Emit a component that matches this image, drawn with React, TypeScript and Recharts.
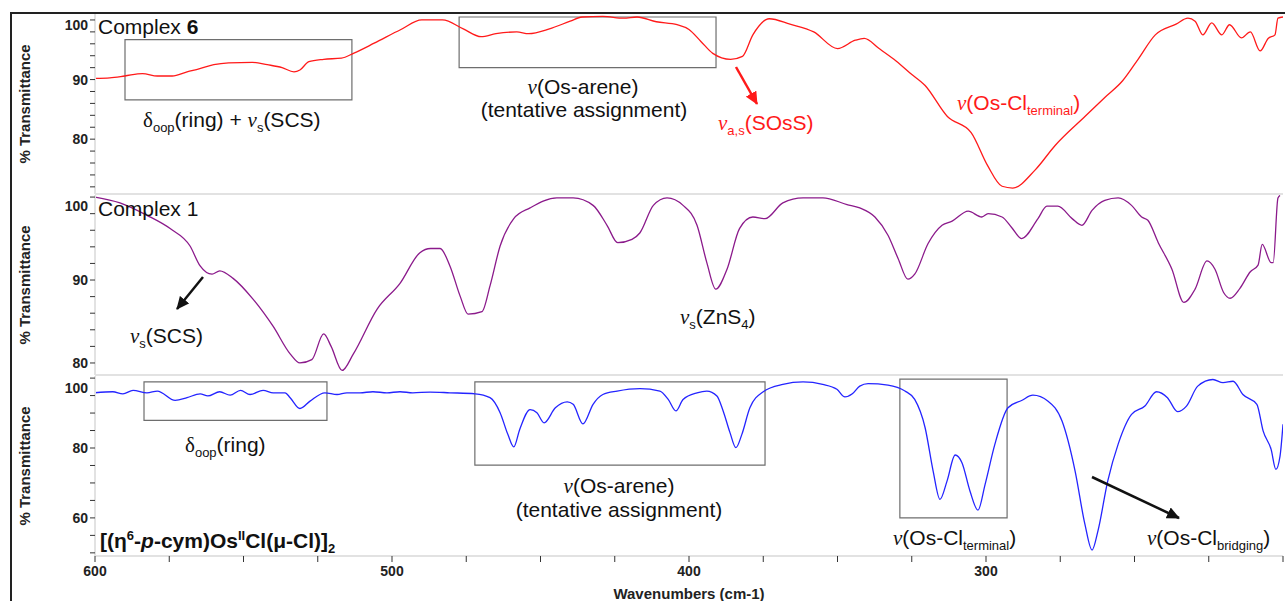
import { Line, LineChart, ReferenceArea, XAxis, YAxis } from 'recharts';

// wavenumber (cm-1) / % transmittance
const complex6Wn = [600, 595, 590, 584, 579, 574, 569, 565, 560, 555, 547, 542, 537, 533, 531, 528, 523, 517, 513, 506, 497, 490, 487, 483, 476, 470, 465, 458, 454, 447, 440, 436, 429, 422, 417.5, 411, 404, 400, 396, 392, 386, 382, 378.5, 373, 366, 358, 350, 344, 341, 336, 331, 325.6, 320.5, 313, 305, 299.5, 294.6, 291, 283.5, 276.8, 266.7, 260, 254, 248.8, 243, 236, 232, 229.6, 227, 224, 220.6, 218, 214, 211, 207.7, 205, 202.7, 201.7, 200];
const complex6T = [90.2, 90.3, 90.6, 91, 90.6, 90.6, 91.3, 91.8, 92.5, 92.8, 92.9, 92.5, 92, 91.3, 91.6, 93, 93.4, 93.6, 94.4, 96.1, 98.4, 100, 100, 100, 98.5, 97.2, 97.7, 98, 97.7, 98.5, 99.8, 100.5, 100.6, 100.3, 100.5, 99.7, 99.2, 98.4, 96.4, 94.4, 93.4, 93.9, 97.5, 100.2, 99.3, 98, 95.2, 96.6, 96.9, 95.2, 93.4, 91.1, 89, 83.8, 81.1, 75.6, 72.1, 71.8, 74.8, 78.9, 83.8, 87, 89.8, 93.4, 97.5, 99.3, 100.3, 99.8, 97.5, 99.5, 97.5, 99.2, 97, 98, 94.8, 96.9, 97.5, 100.3, 100.5];

const complex1Wn = [600, 591.6, 582.5, 574.7, 568, 564.6, 560.6, 558, 553.5, 546.8, 540, 534.3, 531, 527, 523, 520.5, 516.8, 513, 505, 497.3, 490.6, 487, 483.8, 480.5, 477, 474.4, 469.7, 467, 463.6, 459, 453.5, 444.5, 439, 432.3, 427.6, 424, 419.2, 416.5, 412, 407.4, 402, 397.3, 394, 391, 387.2, 383, 378.5, 374.4, 368.4, 361.6, 354.9, 346.8, 342.5, 337.4, 333, 329.6, 326.3, 324, 319.5, 314.8, 311.4, 306, 301.4, 299.3, 294.6, 291.3, 288, 282.5, 279.5, 275.8, 271, 267.7, 264.3, 260, 255.5, 251, 247.6, 245.5, 242, 237.4, 233.4, 229.6, 225.6, 222.9, 220, 217.8, 214.5, 211, 208.4, 207, 204, 203.3, 201.7, 201];
const complex1T = [100, 99.3, 97.8, 96.2, 94.1, 91.7, 90.7, 91.1, 90.2, 87.7, 84.4, 81.1, 80, 80.4, 83.5, 82, 79.1, 81.1, 86.5, 89.6, 93.3, 93.8, 93.8, 91.7, 88, 85.9, 86.2, 89.3, 94.1, 97.4, 98.7, 99.9, 99.9, 99, 96.6, 94.5, 94.9, 95.7, 99, 99.9, 99, 96.6, 92.1, 88.9, 91.3, 96.2, 97.6, 97.4, 99.3, 99.9, 99.9, 99.1, 98.7, 97.6, 95.4, 92.6, 90.1, 90.7, 94.4, 96.6, 97.1, 98.3, 97.6, 98, 97.6, 96.3, 95, 97.4, 98.9, 98.9, 97.4, 96.6, 98.4, 99.6, 99.9, 99, 97.6, 97.2, 94.5, 91.3, 87.3, 88.9, 92.3, 91.3, 88.5, 87.8, 89, 91, 91.8, 94.3, 92.1, 92.1, 99.9, 100.2];

const dimerWn = [600, 594, 590.6, 587.2, 582.5, 579, 573, 569, 564.6, 562, 558, 554.5, 551, 547.8, 543.4, 540, 536, 534.3, 531, 527.6, 522.6, 518.5, 515.2, 510.8, 506.4, 501.7, 497.3, 493, 487.2, 480.5, 472, 467, 463.6, 461, 459, 457, 453.5, 451.2, 448.8, 445, 441, 439, 435.7, 432.3, 429, 424.2, 416.5, 409.8, 407, 404.4, 402, 397.3, 394, 390.6, 388.5, 386.2, 384.2, 382.2, 379.5, 375, 368.4, 361.6, 355, 350.2, 347.5, 345, 342.5, 339.7, 333, 327.3, 324, 320.5, 317.8, 315.5, 313.1, 310.4, 308.1, 305.4, 302.7, 300.3, 297, 292.6, 288, 284.2, 279.1, 274.4, 270, 266.7, 264.3, 262.3, 259, 255.5, 251, 246.5, 242.6, 238.9, 235.5, 232.5, 228.7, 223.6, 220.2, 216.8, 213.5, 208.8, 206.7, 204, 202.4, 201, 200];
const dimerT = [95.8, 96.1, 95.5, 96.5, 95.8, 96.3, 93.6, 94.4, 95.5, 94.9, 96.1, 95.1, 96.5, 95.3, 96.5, 95.8, 95.8, 94.4, 91.3, 93.4, 95.8, 95.3, 95.8, 95.8, 96.1, 95.8, 96.1, 95.8, 96, 95.8, 95.5, 94.4, 90.1, 83.9, 80.3, 85.3, 91, 90.1, 87.2, 91.5, 93.2, 92.5, 86.9, 92.5, 95.3, 96.3, 97, 96.3, 93.9, 90.6, 93.9, 95.8, 96.3, 94.9, 90.6, 84.4, 80.1, 83.9, 91.5, 96.1, 98.2, 98.9, 98.2, 96.8, 94.6, 95.5, 97.7, 98.4, 98, 96.3, 93.9, 85.8, 73.4, 65.3, 70.6, 78, 75.8, 67.7, 62.2, 69.6, 81.1, 91.5, 93.6, 95.1, 93.4, 87.7, 73.4, 58.2, 50.8, 56.3, 70.6, 81.1, 89.6, 92, 96.1, 94.4, 90.4, 92, 97.7, 99.6, 98.7, 99.1, 95.3, 92.5, 84.9, 79.6, 73.9, 77.7, 86.8];

const wnTicks = [600, 575, 550, 525, 500, 475, 450, 425, 400, 375, 350, 325, 300, 275, 250, 225, 200];
const wnLabels = [600, 500, 400, 300];
const ticks2 = [72, 74, 76, 78, 80, 82, 84, 86, 88, 90, 92, 94, 96, 98, 100];
const ticks5 = [50, 55, 60, 65, 70, 75, 80, 85, 90, 95, 100];
const labels6 = [80, 90, 100];
const labelsDimer = [60, 80, 100];

const toRows = (wn: number[], t: number[]) => wn.map((w, i) => ({ wn: w, t: t[i] }));

const SANS = '"Liberation Sans", Arial, sans-serif';
const SERIF = '"Liberation Serif", "Times New Roman", serif';
const AXIS_GREY = '#e2e2e2';
const BOX = { fill: 'none', stroke: '#6e6e6e', strokeWidth: 1.2, fillOpacity: 0, ifOverflow: 'visible' as const };

function YLabel({ viewBox }: any) {
  const cy = viewBox ? viewBox.y + viewBox.height / 2 : 100;
  return (
    <text
      x={24}
      y={cy}
      transform={`rotate(-90 24 ${cy})`}
      textAnchor='middle'
      dominantBaseline='central'
      fontFamily={SANS}
      fontWeight='bold'
      fontSize={15}
      fill='#222'
    >
      % Transmittance
    </text>
  );
}

// only the major ticks get a number; the top one sits a bit lower, as in the original plot
const yTick = (labels: number[], topShift: number) => (props: any) => {
  const { x, y, payload } = props;
  if (!labels.includes(payload.value)) return <g />;
  const shift = payload.value === 100 ? topShift : 0;
  return (
    <text x={x} y={y + shift} dy={5} textAnchor='end' fontFamily={SANS} fontWeight='bold' fontSize={14} fill='#222'>
      {payload.value}
    </text>
  );
};

const xTick = (props: any) => {
  const { x, y, payload } = props;
  if (!wnLabels.includes(payload.value)) return <g />;
  return (
    <text x={x} y={y} dy={12} textAnchor='middle' fontFamily={SANS} fontWeight='bold' fontSize={14} fill='#222'>
      {payload.value}
    </text>
  );
};

function Panel({ data, color, domain, ticks, labels, topShift, top, height, marginTop, showX, children }: any) {
  return (
    <div style={{ position: 'absolute', left: 0, top }}>
      <LineChart
        width={1285}
        height={height}
        data={data}
        margin={{ top: marginTop, right: 2, bottom: 0, left: 10 }}
      >
        <XAxis
          dataKey='wn'
          type='number'
          domain={[200, 600]}
          reversed
          allowDataOverflow
          ticks={wnTicks}
          interval={0}
          height={showX ? 45 : 2}
          tick={showX ? xTick : false}
          tickLine={showX ? { stroke: '#333' } : false}
          tickSize={6}
          axisLine={{ stroke: AXIS_GREY, strokeWidth: 2 }}
          label={
            showX
              ? {
                  value: 'Wavenumbers (cm-1)',
                  position: 'insideBottom',
                  offset: 2,
                  fontFamily: SANS,
                  fontWeight: 'bold',
                  fontSize: 15,
                  fill: '#222',
                }
              : undefined
          }
        />
        <YAxis
          type='number'
          domain={domain}
          allowDataOverflow
          ticks={ticks}
          interval={0}
          width={85}
          tickSize={5}
          tickLine={{ stroke: '#333' }}
          axisLine={{ stroke: AXIS_GREY, strokeWidth: 2 }}
          tick={yTick(labels, topShift)}
          label={<YLabel />}
        />
        {children}
        <Line
          type='monotone'
          dataKey='t'
          stroke={color}
          strokeWidth={1.3}
          dot={false}
          isAnimationActive={false}
        />
      </LineChart>
    </div>
  );
}

const nu = { fontFamily: SERIF, fontStyle: 'italic' };
const SUB = 13;

function Annotations() {
  const txt = { fontFamily: SANS, fontSize: 21, fill: '#111' };
  const red = { ...txt, fill: '#ff1a1a' };
  return (
    <svg
      width={1285}
      height={601}
      style={{ position: 'absolute', left: 0, top: 0, pointerEvents: 'none' }}
    >
      <defs>
        <marker id='headRed' markerUnits='userSpaceOnUse' markerWidth={13} markerHeight={12} refX={12} refY={6} orient='auto'>
          <path d='M0,0 L13,6 L0,12 z' fill='#ff1a1a' />
        </marker>
        <marker id='headBlack' markerUnits='userSpaceOnUse' markerWidth={13} markerHeight={12} refX={12} refY={6} orient='auto'>
          <path d='M0,0 L13,6 L0,12 z' fill='#111' />
        </marker>
      </defs>

      <text x={98} y={34} {...txt}>
        Complex <tspan fontWeight='bold'>6</tspan>
      </text>
      <text x={143} y={127} {...txt}>
        <tspan fontFamily={SERIF}>δ</tspan>
        <tspan fontSize={SUB} dy={5}>oop</tspan>
        <tspan dy={-5}>(ring) + </tspan>
        <tspan {...nu}>ν</tspan>
        <tspan fontSize={SUB} dy={5}>s</tspan>
        <tspan dy={-5}>(SCS)</tspan>
      </text>
      <text x={583} y={94} textAnchor='middle' {...txt}>
        <tspan {...nu}>ν</tspan>(Os-arene)
      </text>
      <text x={584} y={117} textAnchor='middle' {...txt}>
        (tentative assignment)
      </text>
      <line x1={736} y1={67} x2={757} y2={104} stroke='#ff1a1a' strokeWidth={2.5} markerEnd='url(#headRed)' />
      <text x={718} y={130} {...red}>
        <tspan {...nu}>ν</tspan>
        <tspan fontSize={SUB} dy={5}>a,s</tspan>
        <tspan dy={-5}>(SOsS)</tspan>
      </text>
      <text x={957} y={110} {...red}>
        <tspan {...nu}>ν</tspan>(Os-Cl
        <tspan fontSize={SUB} dy={5}>terminal</tspan>
        <tspan dy={-5}>)</tspan>
      </text>

      <text x={98} y={216} {...txt}>
        Complex 1
      </text>
      <line x1={203} y1={277} x2={177} y2={309} stroke='#111' strokeWidth={2.5} markerEnd='url(#headBlack)' />
      <text x={130} y={343} {...txt}>
        <tspan {...nu}>ν</tspan>
        <tspan fontSize={SUB} dy={5}>s</tspan>
        <tspan dy={-5}>(SCS)</tspan>
      </text>
      <text x={680} y={324} {...txt}>
        <tspan {...nu}>ν</tspan>
        <tspan fontSize={SUB} dy={5}>s</tspan>
        <tspan dy={-5}>(ZnS</tspan>
        <tspan fontSize={SUB} dy={5}>4</tspan>
        <tspan dy={-5}>)</tspan>
      </text>

      <text x={185} y={452} {...txt}>
        <tspan fontFamily={SERIF}>δ</tspan>
        <tspan fontSize={SUB} dy={5}>oop</tspan>
        <tspan dy={-5}>(ring)</tspan>
      </text>
      <text x={100} y={548} {...txt} fontWeight='bold'>
        <tspan>[(η</tspan>
        <tspan fontSize={13} dy={-8}>6</tspan>
        <tspan dy={8}>-</tspan>
        <tspan fontStyle='italic'>p</tspan>
        <tspan>-cym)Os</tspan>
        <tspan fontSize={13} dy={-8}>II</tspan>
        <tspan dy={8}>Cl(μ-Cl)]</tspan>
        <tspan fontSize={SUB} dy={5}>2</tspan>
      </text>
      <text x={619} y={493} textAnchor='middle' {...txt}>
        <tspan {...nu}>ν</tspan>(Os-arene)
      </text>
      <text x={619} y={517} textAnchor='middle' {...txt}>
        (tentative assignment)
      </text>
      <text x={893} y={545} {...txt}>
        <tspan {...nu}>ν</tspan>(Os-Cl
        <tspan fontSize={SUB} dy={5}>terminal</tspan>
        <tspan dy={-5}>)</tspan>
      </text>
      <line x1={1092} y1={477} x2={1179} y2={518} stroke='#111' strokeWidth={2.5} markerEnd='url(#headBlack)' />
      <text x={1147} y={545} {...txt}>
        <tspan {...nu}>ν</tspan>(Os-Cl
        <tspan fontSize={SUB} dy={5}>bridging</tspan>
        <tspan dy={-5}>)</tspan>
      </text>
    </svg>
  );
}

export default function App() {
  return (
    <div style={{ position: 'absolute', left: 0, top: 0, width: 1285, height: 601, background: '#fff', overflow: 'hidden' }}>
      <div
        style={{
          position: 'absolute',
          left: 10,
          top: 12,
          width: 1285,
          height: 600,
          borderTop: '2px solid #222',
          borderLeft: '2px solid #222',
        }}
      />
      <Panel
        data={toRows(complex6Wn, complex6T)}
        color='#ff1a1a'
        domain={[70.8, 101]}
        ticks={ticks2}
        labels={labels6}
        topShift={5}
        top={0}
        height={196}
        marginTop={14}
      >
        <ReferenceArea x1={589.9} x2={513.5} y1={86.6} y2={96.7} {...BOX} />
        <ReferenceArea x1={477.4} x2={390.9} y1={92} y2={100.5} {...BOX} />
      </Panel>
      <Panel
        data={toRows(complex1Wn, complex1T)}
        color='#8b1a8b'
        domain={[78.55, 100.25]}
        ticks={ticks2.filter(v => v >= 80)}
        labels={labels6}
        topShift={9}
        top={180}
        height={197}
        marginTop={15}
      />
      <Panel
        data={toRows(dimerWn, dimerT)}
        color='#2424ff'
        domain={[49.1, 100.6]}
        ticks={ticks5}
        labels={labelsDimer}
        topShift={10}
        top={360}
        height={241}
        marginTop={16}
        showX
      >
        <ReferenceArea x1={583.5} x2={521.9} y1={87.9} y2={98.9} {...BOX} />
        <ReferenceArea x1={472.1} x2={374.4} y1={75.1} y2={98.9} {...BOX} />
        <ReferenceArea x1={329} x2={292.9} y1={60} y2={99.7} {...BOX} />
      </Panel>
      <Annotations />
    </div>
  );
}
